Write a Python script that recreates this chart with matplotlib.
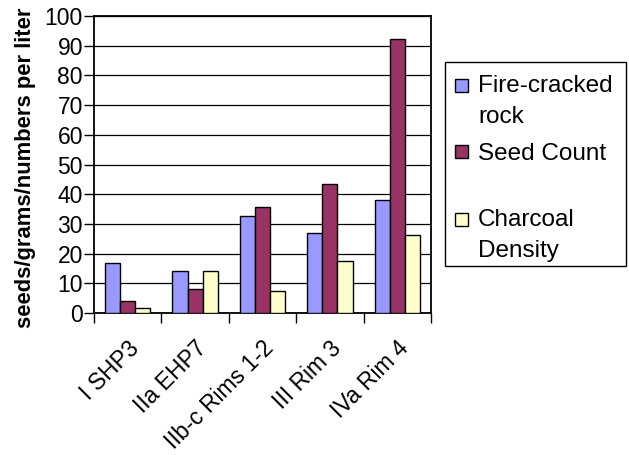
import matplotlib.pyplot as plt
from matplotlib.patches import Rectangle
import numpy as np

plt.rcParams['font.family'] = ['Liberation Sans', 'DejaVu Sans']

sites = ["I SHP3", "IIa EHP7", "IIb-c Rims 1-2", "III Rim 3", "IVa Rim 4"]
fire_rock = [17, 14, 32.8, 27, 38.2]
seed_count = [4, 8.1, 35.8, 43.5, 92.4]
charcoal = [1.6, 14, 7.5, 17.6, 26.4]

colors = ["#9999FF", "#993366", "#FFFFCC"]

W, H = 629, 455
fig = plt.figure(figsize=(W / 100, H / 100), dpi=100)

# axes box in pixels: left 94, right 431, top 16, bottom 313
ax = fig.add_axes([94 / W, 1 - 313 / H, (431 - 94) / W, (313 - 16) / H])

x = np.arange(len(sites)) + 0.5
bw = 0.225
for k, vals in enumerate([fire_rock, seed_count, charcoal]):
    ax.bar(x + (k - 1) * bw, vals, bw, color=colors[k], edgecolor="black",
           linewidth=1.0, zorder=3)

ax.set_xlim(0, len(sites))
ax.set_ylim(0, 100)
ax.set_yticks(np.arange(0, 101, 10))
ax.yaxis.grid(True, color="black", linewidth=0.9, zorder=0)
ax.tick_params(axis="y", labelsize=16.5, length=7, width=1, pad=1, color="black")

# category boundaries get the tick marks, labels sit at the centres
ax.set_xticks(np.arange(len(sites) + 1))
ax.set_xticklabels([])
ax.tick_params(axis="x", which="major", length=7, width=1)
ax.set_xticks(x, minor=True)
ax.set_xticklabels(sites, minor=True, rotation=45, ha="right", va="top",
                   rotation_mode="anchor", fontsize=16.5)
ax.tick_params(axis="x", which="minor", length=0, pad=17)

for s in ax.spines.values():
    s.set_color("black")
    s.set_linewidth(1.3)

fig.text(26 / W, 1 - 168 / H, "seeds/grams/numbers per liter", rotation=90,
         ha="center", va="center", fontsize=15.8, fontweight="bold")

# legend drawn by hand to keep the Excel-like spacing
def fx(px):
    return px / W

def fy(py):
    return 1 - py / H

fig.patches.append(Rectangle((fx(445), fy(266)), fx(626) - fx(445), (266 - 62) / H,
                             transform=fig.transFigure, facecolor="white",
                             edgecolor="black", linewidth=1.0))
marker_tops = [79, 145, 213]
text_lines = [[("Fire-cracked", 92), ("rock", 123)],
              [("Seed Count", 160)],
              [("Charcoal", 226), ("Density", 257)]]
for k in range(3):
    fig.patches.append(Rectangle((fx(455), fy(marker_tops[k] + 13)), 13 / W, 13 / H,
                                 transform=fig.transFigure, facecolor=colors[k],
                                 edgecolor="black", linewidth=1.0))
    for txt, base in text_lines[k]:
        fig.text(fx(478), fy(base), txt, ha="left", va="baseline", fontsize=17.5)

fig.savefig("out.png", dpi=100)
